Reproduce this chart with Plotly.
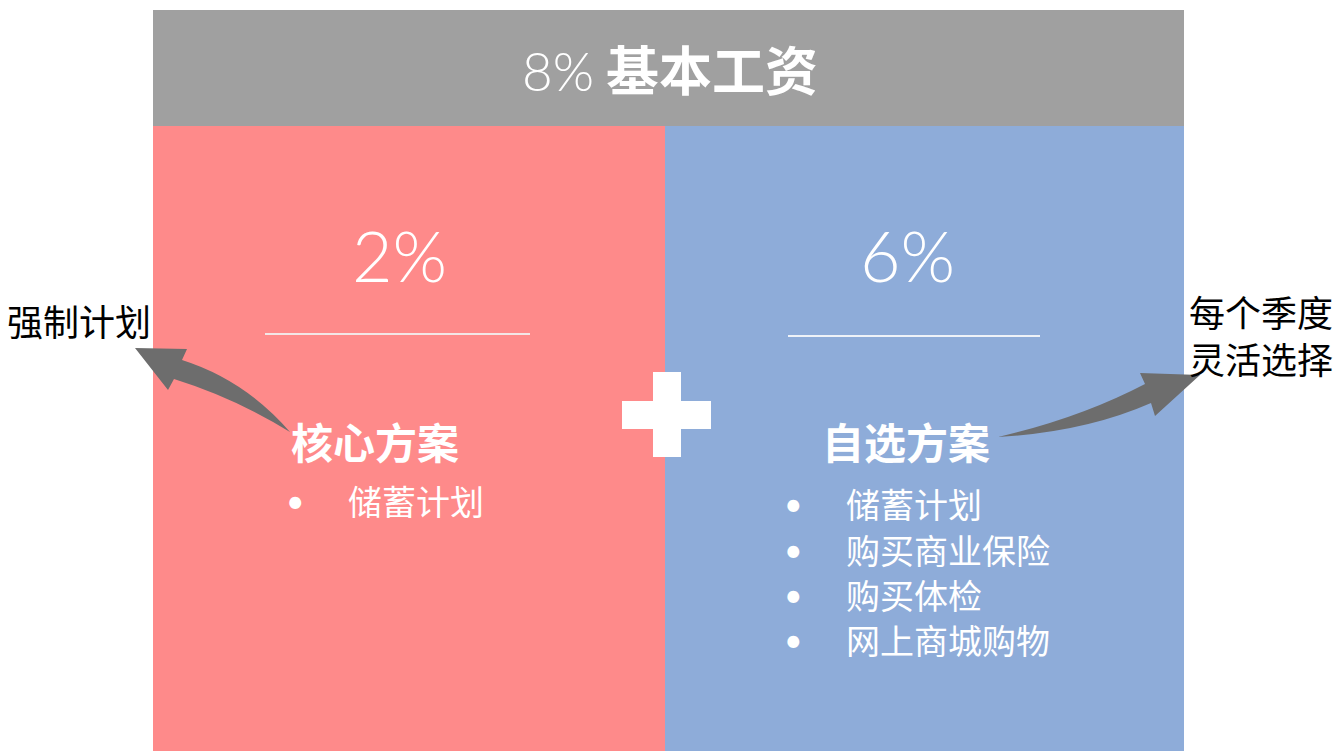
import plotly.graph_objects as go

# ---- content ----
total_pct = "8%"
total_label = "基本工资"
plan_pcts = ["2%", "6%"]
plan_names = ["核心方案", "自选方案"]
core_items = ["储蓄计划"]
optional_items = ["储蓄计划", "购买商业保险", "购买体检", "网上商城购物"]
side_labels = ["强制计划", "每个季度<br>灵活选择"]

# ---- style ----
GRAY = "#a0a0a0"
PINK = "#fe8a8a"
BLUE = "#8eacd9"
ARROW = "#6d6d6d"
CJK = "Noto Sans CJK SC"
W, H = 1344, 751
OFF = 8  # page body margin

fig = go.Figure()
shapes = []
ann = []

def rect(x0, y0, x1, y1, color):
    shapes.append(dict(type="rect", xref="x", yref="y", x0=x0, y0=y0, x1=x1, y1=y1,
                       fillcolor=color, line=dict(width=0), layer="below"))

rect(153, 10, 1184, 126, GRAY)
rect(153, 126, 665, 760, PINK)
rect(665, 126, 1184, 760, BLUE)

# plus sign
shapes.append(dict(type="rect", x0=653, y0=372, x1=681, y1=457, fillcolor="white", line=dict(width=0)))
shapes.append(dict(type="rect", x0=622, y0=401, x1=711, y1=429, fillcolor="white", line=dict(width=0)))

# divider lines
shapes.append(dict(type="line", x0=265, y0=334, x1=530, y1=334, line=dict(color="#f3e6e6", width=2)))
shapes.append(dict(type="line", x0=788, y0=336, x1=1040, y1=336, line=dict(color="#eef2f8", width=2)))

# arrows (filled paths)
left_arrow = ("M 290 432 Q 245 380 182 360 L 187 349 L 135 348 L 168 390 L 174 379 "
              "Q 235 398 290 432 Z")
right_arrow = ("M 998 437 Q 1080 418 1145 384 L 1140 373 L 1200 375 L 1155 416 L 1151 403 "
               "Q 1085 432 998 437 Z")
for p in (left_arrow, right_arrow):
    shapes.append(dict(type="path", path=p, fillcolor=ARROW, line=dict(width=0)))

# header text
ann.append(dict(x=670, y=68, text=f"<span style='font-family:Lato;font-weight:300'>{total_pct}</span> <b>{total_label}</b>",
                font=dict(family=CJK, size=53, color="white")))

# percent labels
for x, t in zip([399, 907], plan_pcts):
    ann.append(dict(x=x, y=255, text=t, font=dict(family="Lato", size=70, color="white", weight=300)))

# plan names
for x, t in zip([375, 906], plan_names):
    ann.append(dict(x=x, y=440, text=f"<b>{t}</b>", font=dict(family=CJK, size=42, color="white")))

# items
def items(list_, bx, tx, ys):
    for t, y in zip(list_, ys):
        ann.append(dict(x=bx, y=y, text="•", borderpad=0,
                        font=dict(family="Lato", size=32, color="white")))
        ann.append(dict(x=tx, y=y, text=t, xanchor="left", borderpad=0,
                        font=dict(family=CJK, size=34, color="white")))

items(core_items, 295, 347, [500])
items(optional_items, 793, 845, [503, 549, 594, 639])

# side labels
ann.append(dict(x=152, y=320, text=side_labels[0], xanchor="right", borderpad=0,
                font=dict(family=CJK, size=36, color="black")))
ann.append(dict(x=1187, y=334, text=side_labels[1], xanchor="left", align="left",
                font=dict(family=CJK, size=36, color="black")))

for a in ann:
    a.setdefault("xref", "x")
    a.setdefault("yref", "y")
    a.setdefault("showarrow", False)
    a.setdefault("yanchor", "middle")

fig.update_layout(
    width=W, height=H, margin=dict(l=0, r=0, t=0, b=0),
    paper_bgcolor="white", plot_bgcolor="white",
    xaxis=dict(range=[OFF, W + OFF], visible=False, fixedrange=True),
    yaxis=dict(range=[H + OFF, OFF], visible=False, fixedrange=True),
    shapes=shapes, annotations=ann, showlegend=False,
)
fig.write_html("out.html")
